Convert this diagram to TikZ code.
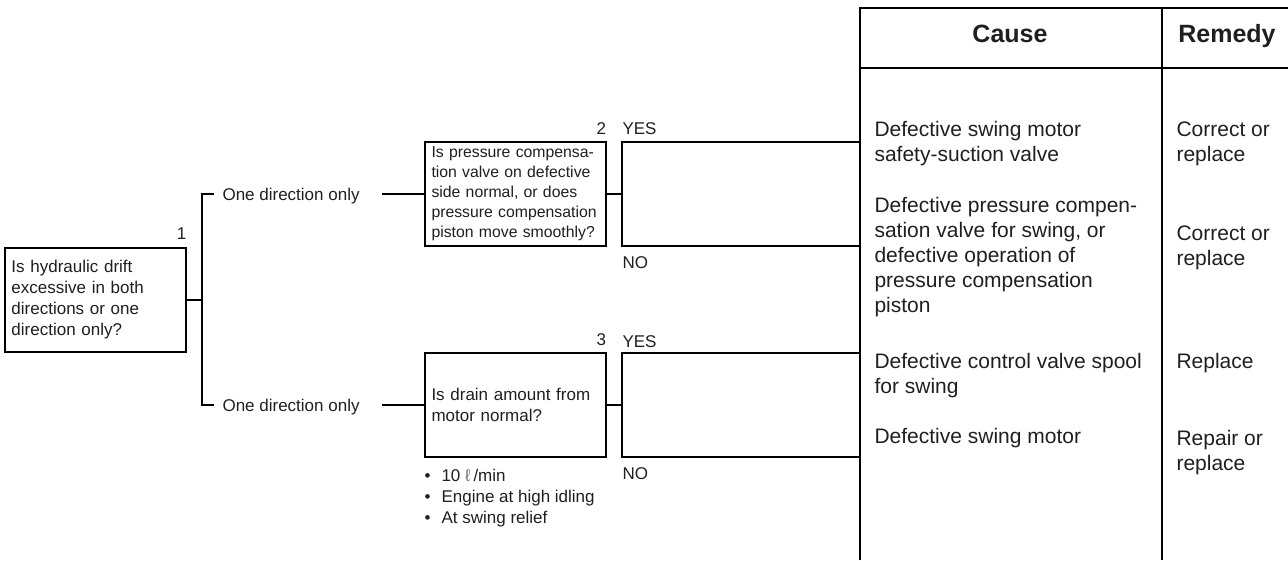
\documentclass[tikz,border=0pt]{standalone}
\usepackage{fontspec}
\setmainfont{Liberation Sans}
\newcommand{\fsm}{\fontsize{17pt}{21pt}\selectfont}
\newcommand{\fsq}{\fontsize{15.8pt}{20pt}\selectfont}
\newcommand{\ftab}{\fontsize{21pt}{25pt}\selectfont}
\newcommand{\fhead}{\fontsize{25pt}{30pt}\selectfont\bfseries}
\begin{document}
\begin{tikzpicture}[x=1pt, y=-1pt, line width=1.1pt, text=black!88,
    qbox/.style={draw, text width=168pt, inner xsep=6.5pt, minimum width=181pt, minimum height=104pt, align=left, font=\fsm},
    lbl/.style={inner sep=0pt, text height=12pt, text depth=0pt, font=\fsm},
    txt/.style={inner sep=0pt, anchor=north west, align=left, font=\ftab},
    hdr/.style={inner sep=0pt, text height=18pt, text depth=0pt, font=\fhead}]
    \useasboundingbox (0,0) rectangle (1288,560);
    % questions
    \node[qbox] (q1) at (95.5,300) {Is hydraulic drift\\ excessive in both\\ directions or one\\ direction only?};
    \node[qbox, font=\fsq] (q2) at (515.5,194) {Is pressure compensa-\\ tion valve on defective\\ side normal, or does\\ pressure compensation\\ piston move smoothly?};
    \node[qbox] (q3) at (515.5,405) {Is drain amount from\\ motor normal?};
    \node[lbl, anchor=east] (n1) at (187,233) {1};
    \node[lbl, anchor=east] (n2) at (606.5,128) {2};
    \node[lbl, anchor=east] (n3) at (606.5,339) {3};
    \node[lbl, anchor=west] (yes2) at (622,128) {YES};
    \node[lbl, anchor=west] (no2) at (622,262) {NO};
    \node[lbl, anchor=west] (yes3) at (622,341) {YES};
    \node[lbl, anchor=west] (no3) at (622,473) {NO};
    \node[txt, font=\fsm] (notes) at (424,469) {\makebox[17pt][l]{•}10 {\color{black!55}ℓ}\,/min\\ \makebox[17pt][l]{•}Engine at high idling\\ \makebox[17pt][l]{•}At swing relief};
    % branches
    \node[lbl, anchor=west] (d1) at (222,194) {One direction only};
    \node[lbl, anchor=west] (d2) at (222,405) {One direction only};
    \coordinate (fork) at (202,300);
    \draw (q1.east) -- (fork);
    \draw ([xshift=-8pt]d1.west) -| (fork) |- ([xshift=-8pt]d2.west);
    \draw ([xshift=22pt]d1.east) -- (q2.west);
    \draw ([xshift=22pt]d2.east) -- (q3.west);
    % table
    \coordinate (tl) at (860,8);
    \coordinate (tr) at (1288,8);
    \coordinate (tb) at (860,560);
    \coordinate (ct) at (1162,8);
    \coordinate (hl) at (860,68);
    \draw (tb) -- (tl) -- (tr);
    \draw (hl) -- (hl -| tr);
    \draw (ct) -- (ct |- tb);
    \node[hdr] (hc) at (1010,33) {Cause};
    \node[hdr] (hr) at (1227,33) {Remedy};
    % yes/no brackets
    \coordinate (b2t) at (622,142);
    \coordinate (b2b) at (622,246);
    \coordinate (b3t) at (622,353);
    \coordinate (b3b) at (622,457);
    \draw (q2.east) -- (q2.east -| b2t);
    \draw (b2t -| tl) -- (b2t) -- (b2b) -- (b2b -| tl);
    \draw (q3.east) -- (q3.east -| b3t);
    \draw (b3t -| tl) -- (b3t) -- (b3b) -- (b3b -| tl);
    % causes and remedies
    \node[txt] (c1) at (874,120.5) {Defective swing motor\\ safety-suction valve};
    \node[txt] (c2) at (874,196.5) {Defective pressure compen-\\ sation valve for swing, or\\ defective operation of\\ pressure compensation\\ piston};
    \node[txt] (c3) at (874,352.5) {Defective control valve spool\\ for swing};
    \node[txt] (c4) at (874,427.5) {Defective swing motor};
    \node[txt] (r1) at (1176,121.5) {Correct or\\ replace};
    \node[txt] (r2) at (1176,225.5) {Correct or\\ replace};
    \node[txt] (r3) at (1176,352.5) {Replace};
    \node[txt] (r4) at (1176,429.5) {Repair or\\ replace};
\end{tikzpicture}
\end{document}
